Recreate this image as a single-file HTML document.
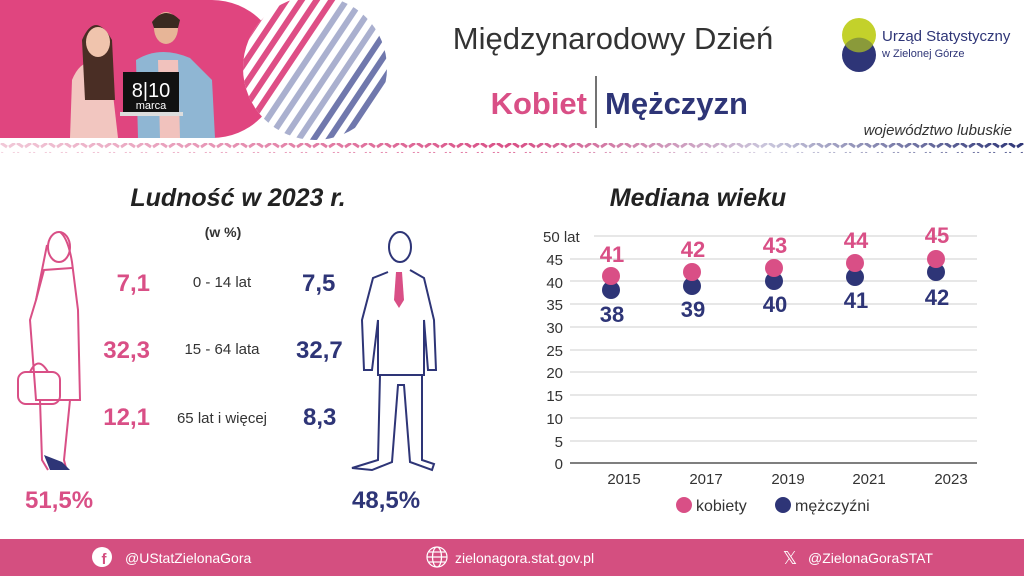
<!DOCTYPE html>
<html><head><meta charset="utf-8"><style>
html,body{margin:0;padding:0;background:#fff}
svg{display:block}
text{font-family:"Liberation Sans","DejaVu Sans",sans-serif}
</style></head><body>
<svg width="1024" height="576" viewBox="0 0 1024 576" xmlns="http://www.w3.org/2000/svg">
<defs>
<clipPath id="circ"><circle cx="315" cy="68" r="72"/></clipPath>
<pattern id="zz" x="0" y="0" width="16" height="10" patternUnits="userSpaceOnUse">
<path d="M1 3 L7 7 M9 7 L15 3" stroke="#fff" stroke-width="3"/>
</pattern>
<linearGradient id="zg" x1="0" x2="1" y1="0" y2="0">
<stop offset="0" stop-color="#f1c9d8"/><stop offset="0.5" stop-color="#d94f86"/><stop offset="0.75" stop-color="#c9c6dc"/><stop offset="1" stop-color="#2e3577"/>
</linearGradient>
<mask id="zm"><rect x="0" y="143" width="1024" height="10" fill="url(#zz)"/></mask>
</defs>
<!-- banner -->
<path d="M0 0 H212 A69 69 0 0 1 212 138 H0 Z" fill="#e0457f"/>
<!-- people approximations -->
<path d="M70 138 L72 80 Q80 60 95 62 L110 68 L118 138 Z" fill="#f2c6c0"/>
<path d="M82 40 Q95 10 112 40 L115 100 L85 100 Z" fill="#4a2e25"/>
<ellipse cx="98" cy="42" rx="12" ry="15" fill="#f0c4ad"/>
<path d="M138 138 L136 60 Q160 45 190 58 L212 80 L215 138 Z" fill="#8fb6d3"/>
<path d="M158 60 L178 60 L180 138 L160 138 Z" fill="#f1c2bd"/>
<ellipse cx="166" cy="28" rx="12" ry="16" fill="#e7b597"/>
<path d="M152 22 Q165 5 180 20 L178 28 L154 28 Z" fill="#3a2a20"/>
<rect x="123" y="72" width="56" height="40" fill="#111"/>
<rect x="120" y="112" width="63" height="4" fill="#ddd"/>
<text x="151" y="97" font-size="20" fill="#fff" text-anchor="middle">8|10</text>
<text x="151" y="109" font-size="11" fill="#fff" text-anchor="middle">marca</text>
<!-- stripes circle -->
<circle cx="315" cy="68" r="72" fill="#fff"/>
<g clip-path="url(#circ)" stroke-width="6">
<g stroke="#de4e86">
<line x1="150" y1="160" x2="270" y2="-20"/><line x1="165" y1="160" x2="285" y2="-20"/><line x1="180" y1="160" x2="300" y2="-20"/><line x1="195" y1="160" x2="315" y2="-20"/><line x1="210" y1="160" x2="330" y2="-20"/><line x1="225" y1="160" x2="345" y2="-20"/>
</g>
<g stroke="#aab0cf">
<line x1="240" y1="160" x2="360" y2="-20"/><line x1="255" y1="160" x2="375" y2="-20"/><line x1="270" y1="160" x2="390" y2="-20"/><line x1="285" y1="160" x2="405" y2="-20"/>
</g>
<g stroke="#7078ad">
<line x1="300" y1="160" x2="420" y2="-20"/><line x1="315" y1="160" x2="435" y2="-20"/><line x1="330" y1="160" x2="450" y2="-20"/>
</g>
<g stroke="#3a4289">
<line x1="345" y1="160" x2="465" y2="-20"/><line x1="360" y1="160" x2="480" y2="-20"/><line x1="375" y1="160" x2="495" y2="-20"/><line x1="390" y1="160" x2="510" y2="-20"/>
</g>
</g>
<!-- zigzag row -->
<rect x="0" y="143" width="1024" height="10" fill="url(#zg)" mask="url(#zm)"/>
<!-- titles -->
<text x="613" y="49" font-size="31" fill="#333" text-anchor="middle">Międzynarodowy Dzień</text>
<text x="587" y="114" font-size="31" font-weight="bold" fill="#d94f86" text-anchor="end">Kobiet</text>
<line x1="596" y1="76" x2="596" y2="128" stroke="#444" stroke-width="1.5"/>
<text x="605" y="114" font-size="31" font-weight="bold" fill="#2e3577">Mężczyzn</text>
<!-- logo -->
<circle cx="859" cy="35" r="17" fill="#c3d12b"/>
<circle cx="859" cy="55" r="17" fill="#2e3577"/>
<path d="M845 45 A17 17 0 0 1 873 45 A17 17 0 0 1 845 45Z" fill="#8a9a3a"/>
<text x="882" y="41" font-size="15" fill="#2e3577">Urząd Statystyczny</text>
<text x="882" y="57" font-size="11" fill="#2e3577">w Zielonej Górze</text>
<text x="1012" y="135" font-size="15" font-style="italic" fill="#333" text-anchor="end">województwo lubuskie</text>
<!-- left section -->
<text x="238" y="206" font-size="25" font-weight="bold" font-style="italic" fill="#222" text-anchor="middle">Ludność w 2023 r.</text>
<text x="223" y="237" font-size="14" font-weight="bold" fill="#333" text-anchor="middle">(w %)</text>
<g font-weight="bold" font-size="24" fill="#d94f86" text-anchor="end">
<text x="150" y="291">7,1</text><text x="150" y="358">32,3</text><text x="150" y="425">12,1</text>
</g>
<text x="25" y="508" font-weight="bold" font-size="24" fill="#d94f86">51,5%</text>
<g font-size="15" fill="#333" text-anchor="middle">
<text x="222" y="287">0 - 14 lat</text><text x="222" y="354">15 - 64 lata</text><text x="222" y="423">65 lat i więcej</text>
</g>
<g font-weight="bold" font-size="24" fill="#2e3577" text-anchor="start">
<text x="302" y="291">7,5</text><text x="296" y="358">32,7</text><text x="303" y="425">8,3</text>
<text x="352" y="508">48,5%</text>
</g>
<!-- woman -->
<g fill="none" stroke="#d94f86" stroke-width="2">
<ellipse cx="59" cy="247" rx="11" ry="15"/>
<path d="M47 245 Q42 270 36 300 L30 320 L36 400 L80 400 L78 310 L72 262 Q68 238 60 232"/>
<path d="M36 300 L44 270 L72 268"/>
<path d="M40 400 L42 460 L48 470 M70 400 L64 460 L66 468"/>
<rect x="18" y="372" width="42" height="32" rx="8"/>
<path d="M30 372 Q38 355 48 372"/>
</g>
<path d="M44 455 L50 470 L70 470 L62 462 Z" fill="#2e3577"/>
<!-- man -->
<g fill="none" stroke="#2e3577" stroke-width="2">
<ellipse cx="400" cy="247" rx="11" ry="15"/>
<path d="M388 272 L373 278 L362 320 L364 370 L372 370 L378 320 L378 375 L424 375 L424 320 L428 370 L436 370 L434 320 L424 278 L410 270"/>
<path d="M380 375 L378 460 L352 468 L372 470 L392 462 L398 385 L404 385 L410 462 L432 470 L434 464 L422 460 L422 375"/>
</g>
<path d="M396 272 L402 272 L404 300 L399 308 L394 300 Z" fill="#d94f86"/>
<!-- chart -->
<text x="698" y="206" font-size="25" font-weight="bold" font-style="italic" fill="#222" text-anchor="middle">Mediana wieku</text>
<g stroke="#cfcfcf" stroke-width="1">
<line x1="594" y1="236" x2="977" y2="236"/>
<line x1="570" y1="259" x2="977" y2="259"/><line x1="570" y1="281" x2="977" y2="281"/>
<line x1="570" y1="304" x2="977" y2="304"/><line x1="570" y1="327" x2="977" y2="327"/>
<line x1="570" y1="350" x2="977" y2="350"/><line x1="570" y1="372" x2="977" y2="372"/>
<line x1="570" y1="395" x2="977" y2="395"/><line x1="570" y1="418" x2="977" y2="418"/>
<line x1="570" y1="441" x2="977" y2="441"/>
</g>
<line x1="570" y1="463" x2="977" y2="463" stroke="#555" stroke-width="1.5"/>
<g font-size="15" fill="#333" text-anchor="end">
<text x="563" y="265">45</text><text x="563" y="288">40</text><text x="563" y="310">35</text>
<text x="563" y="333">30</text><text x="563" y="356">25</text><text x="563" y="378">20</text>
<text x="563" y="401">15</text><text x="563" y="424">10</text><text x="563" y="447">5</text><text x="563" y="469">0</text>
</g>
<text x="543" y="242" font-size="15" fill="#333">50 lat</text>
<g font-size="15" fill="#333" text-anchor="middle">
<text x="624" y="484">2015</text><text x="706" y="484">2017</text><text x="788" y="484">2019</text><text x="869" y="484">2021</text><text x="951" y="484">2023</text>
</g>
<g fill="#2e3577">
<circle cx="611" cy="290" r="9"/><circle cx="692" cy="286" r="9"/><circle cx="774" cy="281" r="9"/><circle cx="855" cy="277" r="9"/><circle cx="936" cy="272" r="9"/>
</g>
<g fill="#d94f86">
<circle cx="611" cy="276" r="9"/><circle cx="692" cy="272" r="9"/><circle cx="774" cy="268" r="9"/><circle cx="855" cy="263" r="9"/><circle cx="936" cy="259" r="9"/>
</g>
<g font-size="22" font-weight="bold" fill="#d94f86" text-anchor="middle">
<text x="612" y="262">41</text><text x="693" y="257">42</text><text x="775" y="253">43</text><text x="856" y="248">44</text><text x="937" y="243">45</text>
</g>
<g font-size="22" font-weight="bold" fill="#2e3577" text-anchor="middle">
<text x="612" y="322">38</text><text x="693" y="317">39</text><text x="775" y="312">40</text><text x="856" y="308">41</text><text x="937" y="305">42</text>
</g>
<circle cx="684" cy="505" r="8" fill="#d94f86"/>
<text x="696" y="511" font-size="16" fill="#333">kobiety</text>
<circle cx="783" cy="505" r="8" fill="#2e3577"/>
<text x="795" y="511" font-size="16" fill="#333">mężczyźni</text>
<!-- footer -->
<rect x="0" y="539" width="1024" height="37" fill="#d44f80"/>
<circle cx="102" cy="557" r="10" fill="#fff"/>
<text x="104" y="564" font-size="15" font-weight="bold" fill="#d44f80" text-anchor="middle">f</text>
<text x="125" y="563" font-size="14" fill="#fff">@UStatZielonaGora</text>
<g fill="none" stroke="#fff" stroke-width="1.2"><circle cx="437" cy="557" r="10"/><ellipse cx="437" cy="557" rx="4.5" ry="10"/><line x1="427" y1="557" x2="447" y2="557"/><line x1="429" y1="552" x2="445" y2="552"/><line x1="429" y1="562" x2="445" y2="562"/></g>
<text x="455" y="563" font-size="14" fill="#fff">zielonagora.stat.gov.pl</text>
<text x="790" y="564" font-size="18" fill="#fff" text-anchor="middle">𝕏</text>
<text x="808" y="563" font-size="14" fill="#fff">@ZielonaGoraSTAT</text>
</svg>
</body></html>
